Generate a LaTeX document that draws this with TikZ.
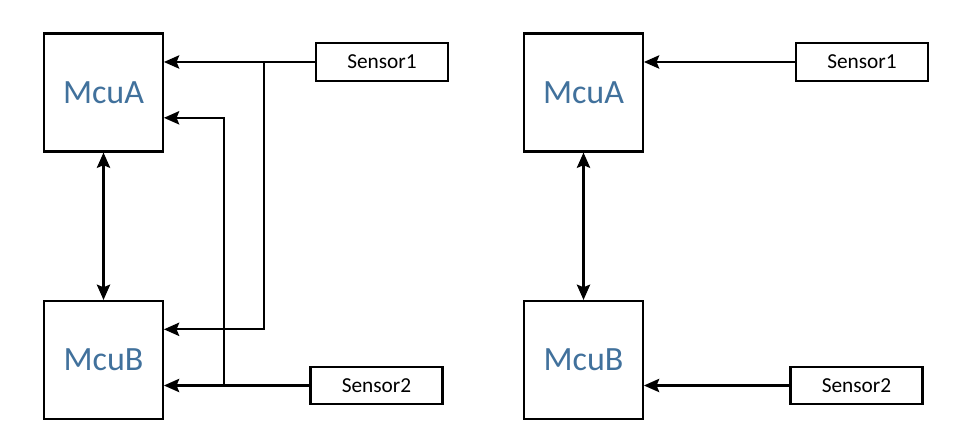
\documentclass[tikz,border=0pt]{standalone}
\usepackage{fontspec}
\setmainfont{Carlito}
\usetikzlibrary{arrows.meta}
\definecolor{mcublue}{RGB}{65,113,156}

\begin{document}
\begin{tikzpicture}[x=0.75pt, y=-0.75pt, >={Stealth[length=11.5pt,width=10pt,inset=2pt]}, line width=1.6pt]
\tikzset{
  mcu/.style={
    draw, rectangle, minimum width=89pt, minimum height=88.5pt,
    text=mcublue, font=\fontsize{25.5}{28}\selectfont
  },
  sensor/.style={
    draw, rectangle, minimum width=99pt, minimum height=28pt,
    font=\fontsize{16}{18}\selectfont
  }
}
\useasboundingbox (0,0) rectangle (953,448);

% left: each sensor feeds both mcus
\node[mcu]    (mcuA) at (103.5,92.5)  {McuA};
\node[mcu]    (mcuB) at (103.5,360)   {McuB};
\node[sensor] (s1)   at (382,62)      {Sensor1};
\node[sensor] (s2)   at (376.5,385.5) {Sensor2};
\coordinate (j1) at (264,62);
\coordinate (j2) at (224,385.5);

\draw[<->] (mcuA) -- (mcuB);
\draw[->] (s1.west) -- (s1.west -| mcuA.east);
\draw[->] (j1) |- ([yshift=23pt]mcuB.east);
\draw[->] (s2.west) -- (s2.west -| mcuB.east);
\draw[->] (j2) |- ([yshift=-19pt]mcuA.east);

% right: one sensor per mcu
\node[mcu]    (mcuC) at (583.5,92.5)  {McuA};
\node[mcu]    (mcuD) at (583.5,360)   {McuB};
\node[sensor] (s3)   at (862,62)      {Sensor1};
\node[sensor] (s4)   at (856.5,385.5) {Sensor2};

\draw[<->] (mcuC) -- (mcuD);
\draw[->] (s3.west) -- (s3.west -| mcuC.east);
\draw[->] (s4.west) -- (s4.west -| mcuD.east);
\end{tikzpicture}
\end{document}
